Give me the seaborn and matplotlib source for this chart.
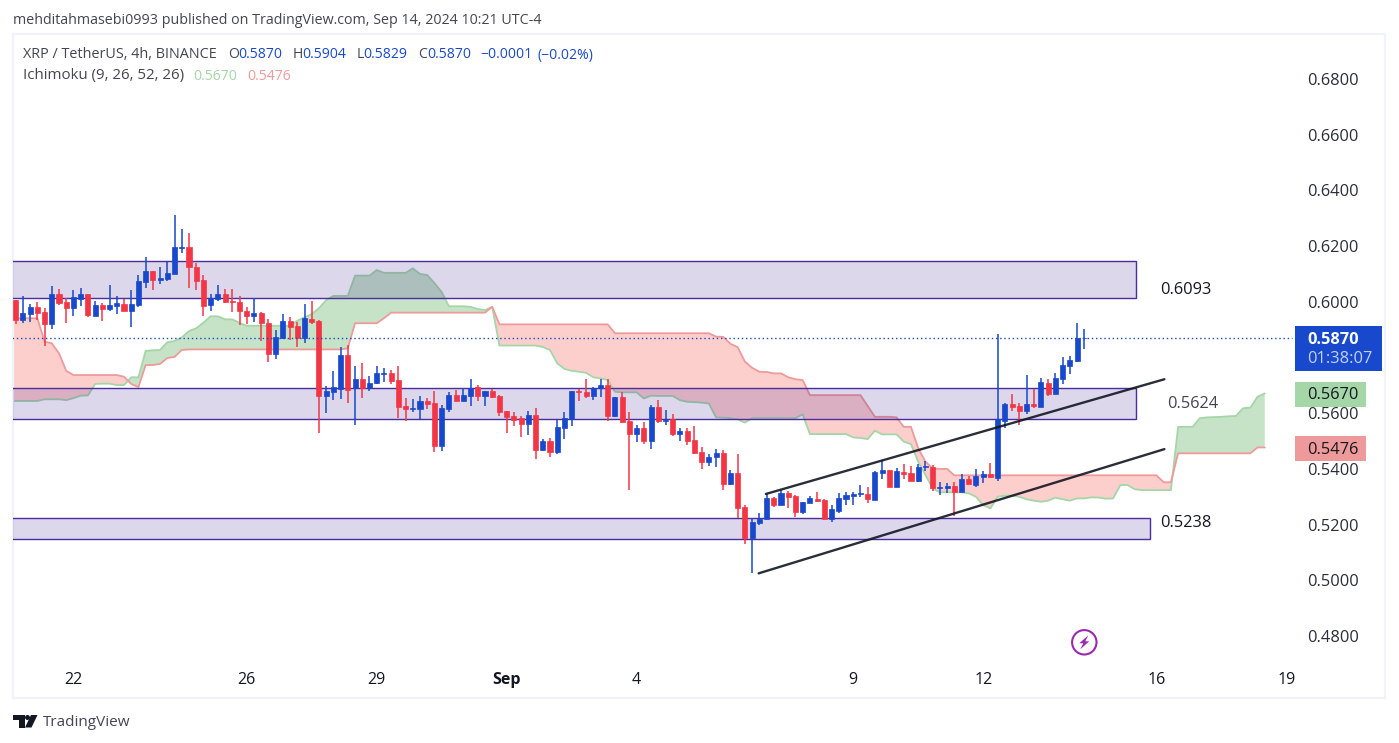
import numpy as np
import matplotlib
matplotlib.use("Agg")
import matplotlib.pyplot as plt
import seaborn as sns
from matplotlib.patches import Rectangle, Polygon, Circle
from matplotlib.transforms import IdentityTransform

# 4h candles, bar 0 = Aug 20 16:00
opens = [.6006, .5935, .5956, .5981, .5963, .5920, .6028, .5999, .5978, .6010,
         .6028, .5949, .5988, .5974, .5985, .5992, .5967, .5988, .6071, .6111,
         .6078, .6082, .6100, .6193, .6197, .6125, .6078, .5988, .6010, .6028,
         .6003, .5999, .5967, .5949, .5960, .5924, .5812, .5869, .5931, .5913,
         .5870, .5938, .5931, .5662, .5676, .5687, .5809, .5689, .5723, .5689,
         .5708, .5742, .5744, .5719, .5626, .5616, .5615, .5644, .5637, .5482,
         .5615, .5665, .5644, .5662, .5694, .5662, .5680, .5662, .5608, .5590,
         .5583, .5561, .5593, .5468, .5500, .5461, .5547, .5578, .5680, .5676,
         .5662, .5689, .5701, .5590, .5658, .5572, .5525, .5547, .5500, .5622,
         .5573, .5579, .5525, .5536, .5504, .5461, .5425, .5443, .5457, .5346,
         .5385, .5263, .5152, .5206, .5220, .5295, .5270, .5314, .5303, .5245,
         .5278, .5292, .5288, .5220, .5249, .5292, .5303, .5310, .5310, .5288,
         .5385, .5396, .5335, .5389, .5385, .5357, .5407, .5407, .5333, .5331,
         .5339, .5317, .5364, .5342, .5371, .5382, .5367, .5572, .5633, .5626,
         .5608, .5633, .5622, .5708, .5669, .5723, .5770, .5787, .5870]
highs = [.6006, .6021, .5992, .5999, .5978, .6057, .6046, .6014, .6042, .6049,
         .6028, .6003, .5996, .6060, .6021, .6010, .6042, .6096, .6161, .6111,
         .6125, .6143, .6312, .6261, .6247, .6139, .6096, .6028, .6060, .6046,
         .6046, .6021, .5981, .6014, .5963, .5938, .5899, .5956, .5945, .5927,
         .5992, .6003, .5935, .5698, .5752, .5838, .5845, .5769, .5780, .5734,
         .5769, .5762, .5755, .5769, .5655, .5651, .5662, .5655, .5680, .5629,
         .5676, .5683, .5687, .5723, .5701, .5680, .5687, .5665, .5608, .5604,
         .5590, .5608, .5619, .5507, .5511, .5576, .5604, .5680, .5687, .5723,
         .5694, .5723, .5723, .5658, .5676, .5604, .5558, .5568, .5629, .5647,
         .5612, .5597, .5547, .5547, .5554, .5479, .5454, .5471, .5468, .5396,
         .5454, .5270, .5220, .5242, .5310, .5299, .5324, .5321, .5306, .5281,
         .5303, .5317, .5292, .5270, .5314, .5317, .5317, .5342, .5335, .5393,
         .5432, .5396, .5403, .5418, .5411, .5418, .5428, .5414, .5353, .5350,
         .5353, .5382, .5375, .5400, .5393, .5421, .5884, .5637, .5669, .5637,
         .5737, .5687, .5726, .5723, .5744, .5802, .5805, .5924, .5904]
lows = [.5920, .5925, .5927, .5935, .5841, .5902, .5988, .5924, .5949, .5985,
        .5945, .5949, .5931, .5967, .5956, .5967, .5909, .5981, .6049, .6042,
        .6064, .6075, .6100, .6175, .6049, .6042, .5949, .5967, .6003, .5996,
        .5963, .5917, .5920, .5927, .5859, .5784, .5795, .5866, .5863, .5838,
        .5852, .5920, .5529, .5601, .5647, .5651, .5637, .5558, .5655, .5680,
        .5705, .5712, .5705, .5583, .5572, .5604, .5579, .5615, .5461, .5464,
        .5604, .5644, .5644, .5626, .5644, .5626, .5655, .5590, .5529, .5554,
        .5515, .5522, .5436, .5464, .5443, .5454, .5507, .5554, .5644, .5655,
        .5647, .5658, .5572, .5586, .5565, .5324, .5497, .5489, .5471, .5565,
        .5558, .5518, .5500, .5486, .5454, .5400, .5411, .5407, .5324, .5342,
        .5224, .5130, .5026, .5199, .5220, .5263, .5270, .5260, .5227, .5238,
        .5278, .5281, .5220, .5209, .5242, .5270, .5270, .5299, .5278, .5288,
        .5364, .5335, .5335, .5364, .5357, .5353, .5393, .5321, .5306, .5314,
        .5231, .5317, .5346, .5335, .5350, .5367, .5357, .5547, .5608, .5558,
        .5597, .5619, .5622, .5662, .5669, .5705, .5741, .5784, .5829]
closes = [.5935, .5960, .5981, .5960, .5920, .6028, .5996, .5978, .6017, .6028,
          .5953, .5988, .5974, .5988, .5996, .5967, .5992, .6075, .6111, .6078,
          .6085, .6103, .6197, .6197, .6125, .6075, .5985, .6014, .6028, .5999,
          .5999, .5967, .5949, .5960, .5924, .5812, .5874, .5931, .5909, .5870,
          .5942, .5927, .5662, .5680, .5694, .5809, .5683, .5723, .5689, .5708,
          .5744, .5744, .5716, .5622, .5615, .5619, .5644, .5633, .5482, .5619,
          .5665, .5644, .5665, .5689, .5662, .5680, .5658, .5604, .5586, .5577,
          .5561, .5593, .5468, .5500, .5461, .5551, .5583, .5680, .5677, .5662,
          .5691, .5701, .5590, .5658, .5568, .5525, .5547, .5500, .5622, .5572,
          .5576, .5525, .5536, .5500, .5457, .5425, .5443, .5457, .5346, .5385,
          .5260, .5152, .5209, .5220, .5295, .5270, .5314, .5299, .5245, .5281,
          .5295, .5285, .5220, .5256, .5295, .5306, .5310, .5312, .5292, .5389,
          .5396, .5335, .5393, .5382, .5357, .5407, .5409, .5331, .5335, .5339,
          .5317, .5364, .5346, .5375, .5382, .5371, .5579, .5633, .5622, .5608,
          .5633, .5626, .5712, .5669, .5726, .5773, .5791, .5870, .5870]

# Ichimoku cloud edges, one value per bar starting one bar left of the pane
span_a = [.5644,
          .5644, .5644, .5644, .5644, .5650, .5650, .5650, .5647, .5654, .5663,
          .5664, .5705, .5706, .5706, .5701, .5701, .5729, .5729, .5824, .5826,
          .5827, .5855, .5859, .5872, .5895, .5905, .5925, .5948, .5948, .5937,
          .5937, .5924, .5914, .5914, .5914, .5914, .5914, .5914, .5914, .5932,
          .5944, .5956, .5977, .6006, .6021, .6021, .6021, .6094, .6094, .6094,
          .6114, .6104, .6104, .6104, .6104, .6120, .6100, .6096, .6067, .6035,
          .5984, .5984, .5984, .5982, .5974, .5970, .5982, .5843, .5843, .5843,
          .5843, .5843, .5843, .5838, .5827, .5779, .5759, .5752, .5749, .5745,
          .5729, .5725, .5719, .5677, .5675, .5675, .5675, .5653, .5663, .5662,
          .5662, .5662, .5647, .5641, .5640, .5638, .5635, .5585, .5584, .5582,
          .5578, .5566, .5582, .5582, .5582, .5582, .5582, .5582, .5582, .5596,
          .5525, .5525, .5525, .5525, .5525, .5525, .5513, .5511, .5507, .5537,
          .5524, .5524, .5524, .5498, .5489, .5426, .5378, .5330, .5316, .5316,
          .5316, .5316, .5312, .5300, .5270, .5258, .5300, .5304, .5304, .5300,
          .5291, .5286, .5282, .5286, .5297, .5291, .5286, .5294, .5294, .5298,
          .5297, .5293, .5294, .5342, .5342, .5327, .5324, .5324, .5324, .5324,
          .5324, .5551, .5551, .5551, .5582, .5585, .5586, .5587, .5589, .5590,
          .5618, .5620, .5659, .5671]
span_b = [.5941,
          .5941, .5941, .5941, .5941, .5857, .5851, .5815, .5752, .5737, .5737,
          .5737, .5737, .5737, .5737, .5737, .5731, .5705, .5694, .5773, .5773,
          .5777, .5798, .5802, .5827, .5829, .5829, .5829, .5829, .5829, .5829,
          .5829, .5829, .5829, .5829, .5829, .5829, .5829, .5829, .5829, .5829,
          .5829, .5829, .5829, .5829, .5829, .5829, .5833, .5923, .5923, .5923,
          .5923, .5941, .5961, .5961, .5961, .5961, .5961, .5961, .5961, .5961,
          .5961, .5961, .5961, .5961, .5961, .5961, .5982, .5919, .5919, .5919,
          .5919, .5919, .5919, .5919, .5919, .5919, .5919, .5919, .5919, .5919,
          .5919, .5919, .5919, .5887, .5887, .5887, .5887, .5887, .5887, .5887,
          .5887, .5887, .5887, .5887, .5887, .5887, .5887, .5875, .5874, .5849,
          .5837, .5785, .5763, .5749, .5748, .5743, .5743, .5729, .5722, .5719,
          .5665, .5665, .5665, .5665, .5665, .5665, .5665, .5665, .5626, .5587,
          .5587, .5587, .5585, .5551, .5551, .5474, .5426, .5402, .5400, .5400,
          .5377, .5377, .5377, .5377, .5377, .5377, .5377, .5377, .5377, .5377,
          .5377, .5377, .5377, .5377, .5377, .5377, .5377, .5377, .5377, .5377,
          .5377, .5377, .5377, .5377, .5377, .5377, .5377, .5377, .5377, .5352,
          .5352, .5456, .5456, .5456, .5456, .5456, .5456, .5456, .5456, .5456,
          .5456, .5456, .5477, .5477]

# supply / demand zones: (top, bottom, last bar)
zone_tops = [.6145, .5689, .5223]
zone_bottoms = [.6013, .5578, .5147]
zone_ends = [155.2, 155.2, 157.1]

# channel lines: (bar, price) at each end
upper_bars = [103.9, 159.1]
upper_prices = [.5310, .5722]
lower_bars = [102.9, 159.1]
lower_prices = [.5025, .5471]

price_ticks = [.68, .66, .64, .62, .60, .56, .54, .52, .50, .48]
date_bars = [8, 32, 50, 68, 86, 116, 134, 158, 176]
date_labels = ["22", "26", "29", "Sep", "4", "9", "12", "16", "19"]
last_price = .5870

W, H = 1399, 743
BLUE = "#1848cc"
RED = "#f23645"
GREEN_LINE = "#a5d6a7"
RED_LINE = "#ef9a9a"
FONT = "Open Sans"

sns.set_theme(style="white")
plt.rcParams["font.family"] = [FONT, "DejaVu Sans"]

fig = plt.figure(figsize=(W / 100, H / 100), dpi=100, facecolor="white")
ax = fig.add_axes([13 / W, 1 - 698 / H, (1385 - 13) / W, (698 - 34) / H])

# cloud
cloud_x = np.arange(-1, len(span_a) - 1)
a = np.array(span_a)
b = np.array(span_b)
ax.fill_between(cloud_x, a, b, where=a >= b, interpolate=True, color="#43a047", alpha=0.3, lw=0, zorder=1)
ax.fill_between(cloud_x, a, b, where=a <= b, interpolate=True, color="#f44336", alpha=0.25, lw=0, zorder=1)
sns.lineplot(x=cloud_x, y=a, ax=ax, color=GREEN_LINE, lw=1.3, errorbar=None, estimator=None, zorder=2)
sns.lineplot(x=cloud_x, y=b, ax=ax, color=RED_LINE, lw=1.3, errorbar=None, estimator=None, zorder=2)

# zones
for top, bottom, end in zip(zone_tops, zone_bottoms, zone_ends):
    ax.add_patch(Rectangle((-1, bottom), end + 1, top - bottom, fc=(50 / 255, 20 / 255, 140 / 255, 0.17),
                           ec="#4b2da0", lw=1, zorder=3))

# candles
bars = np.arange(len(opens))
o = np.array(opens)
c = np.array(closes)
colors = [BLUE if cl >= op else RED for op, cl in zip(opens, closes)]
ax.vlines(bars, lows, highs, colors=colors, lw=1.1, zorder=4)
ax.bar(bars, np.abs(c - o), bottom=np.minimum(o, c), width=0.7, color=colors, edgecolor=colors, lw=0.5, zorder=5)

# last price line
ax.hlines(last_price, -1, 176.8, colors=BLUE, lw=1, linestyles=(0, (1, 2)), zorder=6)

# channel
sns.lineplot(x=upper_bars, y=upper_prices, ax=ax, color="#131722", lw=1.7, alpha=0.9, errorbar=None, estimator=None, zorder=7)
sns.lineplot(x=lower_bars, y=lower_prices, ax=ax, color="#131722", lw=1.7, alpha=0.9, errorbar=None, estimator=None, zorder=7)

ax.set_xlim((13 - 15.7) / 7.22, (1385 - 15.7) / 7.22)
ax.set_ylim(.45774, .69616)
ax.set_xlabel("")
ax.set_ylabel("")
ax.yaxis.tick_right()
ax.set_yticks(price_ticks, [f"{p:.4f}" for p in price_ticks])
ax.set_xticks(date_bars, date_labels)
ax.tick_params(axis="y", length=0, pad=-56, labelsize=11.8, labelcolor="#2a2e39")
ax.tick_params(axis="x", length=0, pad=-19, labelsize=11.5, labelcolor="#131722")
for lab in ax.get_xticklabels():
    if lab.get_text() == "Sep":
        lab.set_fontweight("bold")
for sp in ax.spines.values():
    sp.set_color("#f0f3fa")
    sp.set_linewidth(1.6)
    sp.set_visible(True)


# everything around the chart is placed in image pixels, y measured from the top
def put(x, y, s, size=10.1, color="#434651", **kw):
    fig.text(x, H - y - 1, s, transform=IdentityTransform(), fontsize=size, color=color, va="center", zorder=10, **kw)


def box(x0, y0, x1, y1, color):
    fig.add_artist(Rectangle((x0, H - y1), x1 - x0, y1 - y0, fc=color, lw=0, transform=IdentityTransform(), zorder=9))


def poly(points, color):
    pts = [(x, H - y) for x, y in points]
    fig.add_artist(Polygon(pts, fc=color, lw=0, transform=IdentityTransform(), zorder=9))


put(13, 20, "mehditahmasebi0993 published on TradingView.com, Sep 14, 2024 10:21 UTC-4", size=10.3)
put(23, 54, "XRP / TetherUS, 4h, BINANCE", size=10.4)
for x, s, col in [(228.5, "O", "#434651"), (238.7, "0.5870", BLUE), (292.5, "H", "#434651"), (302, "0.5904", BLUE),
                  (356.5, "L", "#434651"), (363.6, "0.5829", BLUE), (418, "C", "#434651"), (427.7, "0.5870", BLUE),
                  (480, "\u22120.0001", BLUE), (538, "(\u22120.02%)", BLUE)]:
    put(x, 54, s, color=col)
put(23, 75, "Ichimoku (9, 26, 52, 26)", size=10.8)
put(193, 75, "0.5670", color=GREEN_LINE)
put(247, 75, "0.5476", color=RED_LINE)

put(1160, 289, "0.6093", size=11.8, color="#131722")
put(1167, 403, "0.5624", size=11.8, color="#434651")
put(1160, 522, "0.5238", size=11.8, color="#131722")

box(1295, 326, 1382, 371, BLUE)
put(1307, 339, "0.5870", size=11.8, color="white", fontweight="bold")
put(1307, 358, "01:38:07", size=11.8, color="#c5d1f2")
box(1295, 382, 1366, 407, GREEN_LINE)
put(1307, 394, "0.5670", size=11.8, color="#131722")
box(1295, 436, 1366, 461, RED_LINE)
put(1307, 449, "0.5476", size=11.8, color="#131722")

# lightning badge
fig.add_artist(Circle((1084.3, H - 642.3), 12.2, fc="white", ec="#9c27b0", lw=1.5, transform=IdentityTransform(), zorder=9))
cx, cy = 1084.3, 642.3
poly([(cx + 4, cy - 7), (cx - 5, cy + 1), (cx - 1, cy + 1), (cx - 4, cy + 7), (cx + 5, cy - 1), (cx + 1, cy - 1)], "#9c27b0")

# TradingView logo
poly([(13, 715), (24.5, 715), (24.5, 727.5), (18.5, 727.5), (18.5, 720), (13, 720)], "#131722")
fig.add_artist(Circle((27.5, H - 717.5), 2.5, fc="#131722", lw=0, transform=IdentityTransform(), zorder=9))
poly([(31, 715), (37.5, 715), (31.5, 727.5), (25, 727.5)], "#131722")
put(43, 721, "TradingView", size=11, color="#434651")

fig.savefig("out.png", dpi=100)
